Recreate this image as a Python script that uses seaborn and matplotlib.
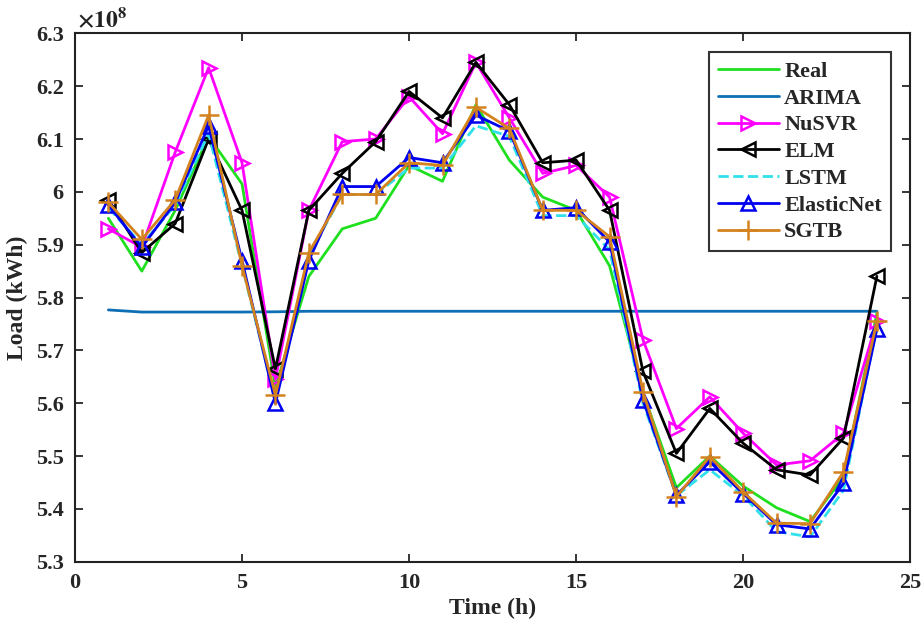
import matplotlib
matplotlib.use('Agg')
import matplotlib.pyplot as plt
import matplotlib.ticker as mticker
import numpy as np
import pandas as pd
import seaborn as sns

# hourly load, in units of 1e8 kWh
hours = list(range(1, 25))
real = [5.95, 5.85, 5.965, 6.105, 6.015, 5.63, 5.84, 5.93, 5.95, 6.05, 6.02, 6.165,
        6.06, 5.99, 5.965, 5.86, 5.62, 5.44, 5.50, 5.443, 5.402, 5.376, 5.46, 5.77]
arima = [5.7765, 5.7725, 5.7725, 5.7725, 5.7725, 5.773, 5.774, 5.774, 5.774, 5.774, 5.774, 5.774,
         5.774, 5.774, 5.774, 5.774, 5.774, 5.774, 5.774, 5.774, 5.774, 5.774, 5.774, 5.774]
nusvr = [5.93, 5.895, 6.075, 6.235, 6.055, 5.645, 5.965, 6.095, 6.10, 6.18, 6.11, 6.245,
         6.14, 6.035, 6.05, 5.99, 5.72, 5.552, 5.612, 5.543, 5.483, 5.491, 5.543, 5.755]
elm = [5.985, 5.885, 5.94, 6.10, 5.965, 5.665, 5.965, 6.035, 6.095, 6.19, 6.14, 6.245,
       6.165, 6.055, 6.06, 5.965, 5.66, 5.505, 5.59, 5.524, 5.474, 5.464, 5.534, 5.84]
lstm = [5.97, 5.90, 5.975, 6.11, 5.86, 5.605, 5.88, 5.995, 5.995, 6.045, 6.045, 6.125,
        6.105, 5.955, 5.955, 5.89, 5.60, 5.425, 5.474, 5.425, 5.357, 5.347, 5.435, 5.745]
elasticnet = [5.975, 5.895, 5.98, 6.125, 5.87, 5.60, 5.87, 6.01, 6.01, 6.065, 6.055, 6.145,
              6.115, 5.965, 5.97, 5.905, 5.606, 5.426, 5.489, 5.429, 5.37, 5.362, 5.448, 5.74]
sgtb = [5.98, 5.91, 5.985, 6.145, 5.86, 5.615, 5.885, 5.995, 5.995, 6.055, 6.05, 6.16,
        6.12, 5.965, 5.965, 5.915, 5.622, 5.423, 5.499, 5.432, 5.373, 5.372, 5.47, 5.755]
scale = 1e8

sns.set_theme(style='ticks')
plt.rcParams['font.family'] = ['Liberation Serif', 'DejaVu Serif']
plt.rcParams['font.weight'] = 'bold'
plt.rcParams['mathtext.fontset'] = 'stix'

fig = plt.figure(figsize=(9.22, 6.29), dpi=100)
ax = fig.add_axes([0.0813, 0.107, 0.906, 0.840])

series = [
    ('Real', real, dict(color='#1fe01f', linestyle='-')),
    ('ARIMA', arima, dict(color='#0f6fb4', linestyle='-')),
    ('NuSVR', nusvr, dict(color='#ff00ff', linestyle='-', marker='>', mfc='none', mec='#ff00ff', ms=9.5, mew=1.8)),
    ('ELM', elm, dict(color='black', linestyle='-', marker='<', mfc='none', mec='black', ms=9.5, mew=1.8)),
    ('LSTM', lstm, dict(color='#30e0ea', linestyle='--', dashes=(4, 2.5))),
    ('ElasticNet', elasticnet, dict(color='#0000f0', linestyle='-', marker='^', mfc='none', mec='#0000f0', ms=9.5, mew=1.8)),
    ('SGTB', sgtb, dict(color='#d4821e', linestyle='-', marker='+', mec='#d4821e', ms=14, mew=1.8)),
]

for name, vals, style in series:
    df = pd.DataFrame({'hour': hours, 'load': np.array(vals) * scale})
    sns.lineplot(data=df, x='hour', y='load', ax=ax, label=name, linewidth=2.0, **style)

ax.set_xlim(0, 25)
ax.set_ylim(5.3 * scale, 6.3 * scale)
ax.set_xticks([0, 5, 10, 15, 20, 25])
ax.set_yticks(np.arange(5.3, 6.31, 0.1) * scale)
ax.yaxis.set_major_formatter(mticker.FuncFormatter(lambda v, p: '%g' % round(v / scale, 2)))
ax.tick_params(direction='in', length=6, width=1.3, top=True, right=True,
               labelsize=16, pad=8)
for lab in ax.get_xticklabels() + ax.get_yticklabels():
    lab.set_fontweight('bold')
for sp in ax.spines.values():
    sp.set_visible(True)
    sp.set_linewidth(1.5)
    sp.set_color('#222222')

ax.set_xlabel('Time (h)', fontsize=17, fontweight='bold', labelpad=4)
ax.set_ylabel('Load (kWh)', fontsize=17, fontweight='bold', labelpad=6)
ax.text(0.003, 1.003, r'$\times10^{8}$', transform=ax.transAxes, fontsize=17,
        fontweight='normal', ha='left', va='bottom', color='#222222')

leg = ax.legend(loc='upper right', bbox_to_anchor=(0.99, 0.985), fontsize=16,
                frameon=True, fancybox=False, edgecolor='black', handlelength=2.75,
                labelspacing=0.28, borderpad=0.4, handletextpad=0.25)
leg.get_frame().set_linewidth(1.5)
for t in leg.get_texts():
    t.set_fontweight('bold')

fig.savefig('out.png', dpi=100)
